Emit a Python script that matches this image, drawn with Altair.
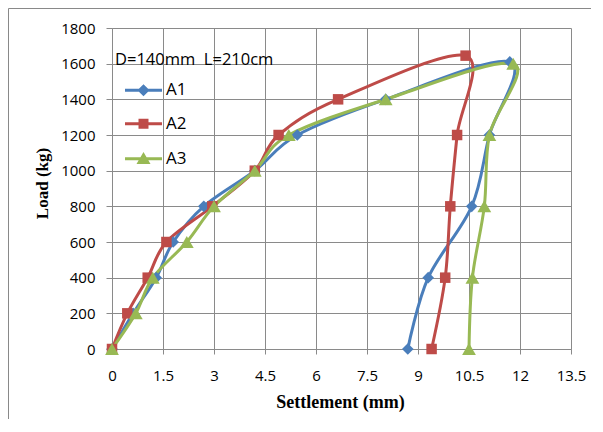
import altair as alt
import pandas as pd

series_names = ["A1", "A2", "A3"]
colors = ["#4A7EBB", "#BE4B48", "#98B954"]
marker_shapes = ["diamond", "square", "triangle-up"]
marker_sizes = [135, 110, 190]

A1_settlement = [0, 0.62, 1.3, 1.8, 2.7, 4.2, 5.45, 8.05, 11.7, 11.1, 10.58, 9.3, 8.7]
A1_load = [0, 200, 400, 600, 800, 1000, 1200, 1400, 1610, 1200, 800, 400, 0]
A2_settlement = [0, 0.45, 1.05, 1.6, 2.95, 4.2, 4.9, 6.65, 10.4, 10.15, 9.95, 9.8, 9.4]
A2_load = [0, 200, 400, 600, 800, 1000, 1200, 1400, 1645, 1200, 800, 400, 0]
A3_settlement = [0, 0.7, 1.2, 2.2, 3.0, 4.2, 5.2, 8.05, 11.8, 11.1, 10.95, 10.6, 10.5]
A3_load = [0, 200, 400, 600, 800, 1000, 1200, 1400, 1600, 1200, 800, 400, 0]

x_ticks = [0, 1.5, 3, 4.5, 6, 7.5, 9, 10.5, 12, 13.5]
y_ticks = [0, 200, 400, 600, 800, 1000, 1200, 1400, 1600, 1800]
legend_title = "D=140mm\u00a0\u00a0L=210cm"

rows = []
for name, xs, ys in [("A1", A1_settlement, A1_load), ("A2", A2_settlement, A2_load), ("A3", A3_settlement, A3_load)]:
    for i, (xv, yv) in enumerate(zip(xs, ys)):
        rows.append({"series": name, "idx": i, "settlement": xv, "load": yv})
df = pd.DataFrame(rows)

FONT = "Open Sans"
GRID = "#8a8a8a"

x_enc = alt.X("settlement:Q",
              scale=alt.Scale(domain=[0, 13.5], nice=False, zero=False),
              axis=alt.Axis(values=x_ticks, labelExpr="format(datum.value, '.1~f')",
                            labelFlush=False, labelOverlap=False,
                            title="Settlement (mm)", grid=True, gridColor=GRID,
                            domainColor=GRID, tickColor=GRID, tickSize=5, labelPadding=14,
                            labelFont=FONT, labelFontSize=15, labelColor="black",
                            titleFont="Liberation Serif", titleFontSize=18, titleFontWeight="bold",
                            titleColor="black", titleX=228, titleY=53, titleBaseline="middle",
                            titleAlign="center"))
y_enc = alt.Y("load:Q",
              scale=alt.Scale(domain=[0, 1800], nice=False),
              axis=alt.Axis(values=y_ticks, format="d", labelFlush=False, labelOverlap=False,
                            title="Load (kg)", grid=True, gridColor=GRID,
                            domainColor=GRID, tickColor=GRID, tickSize=6, labelPadding=11,
                            labelFont=FONT, labelFontSize=15, labelColor="black",
                            titleFont="Liberation Serif", titleFontSize=17, titleFontWeight="bold",
                            titleColor="black", titleX=-70, titleY=155, titleBaseline="middle",
                            titleAlign="center", titleAngle=-90))

legend_paths = [
    "M-1,-0.081L1,-0.081L1,0.081L-1,0.081Z M0,-0.33L0.33,0L0,0.33L-0.33,0Z",
    "M-1,-0.081L1,-0.081L1,0.081L-1,0.081Z M-0.27,-0.27L0.27,-0.27L0.27,0.27L-0.27,0.27Z",
    "M-1,-0.081L1,-0.081L1,0.081L-1,0.081Z M0,-0.37L0.38,0.28L-0.38,0.28Z",
]
legend_y = [24, 78, 113]

base = alt.Chart(df)

lines = base.mark_line(interpolate="cardinal", strokeWidth=3).encode(
    x=x_enc, y=y_enc,
    stroke=alt.Stroke("series:N", scale=alt.Scale(domain=series_names, range=colors), legend=None),
    order=alt.Order("idx:Q"),
)

point_layers = []
for name, shp, sz in zip(series_names, marker_shapes, marker_sizes):
    point_layers.append(
        base.transform_filter(alt.datum.series == name).mark_point(
            filled=True, opacity=1, shape=shp, size=sz, strokeWidth=0
        ).encode(
            x=x_enc, y=y_enc,
            fill=alt.Fill("series:N", scale=alt.Scale(domain=series_names, range=colors), legend=None),
        )
    )

legend_layers = []
for i, (name, col, path, ly) in enumerate(zip(series_names, colors, legend_paths, legend_y)):
    lg_kwargs = dict(
        orient="none", legendX=3, legendY=ly,
        labelFont=FONT, labelFontSize=17, labelColor="black", labelOffset=4,
        symbolSize=1369, symbolOffset=10, symbolStrokeWidth=0, symbolOpacity=1,
        symbolFillColor=col, symbolStrokeColor=col, clipHeight=35.5,
        rowPadding=0, padding=0,
    )
    if i == 0:
        lg_kwargs.update(title=legend_title, titleFont=FONT, titleFontSize=16.5,
                         titleFontWeight="normal", titleColor="black", titlePadding=4,
                         titleLimit=400)
    else:
        lg_kwargs.update(title=None)
    legend_layers.append(
        base.transform_filter("false").mark_point(filled=True, opacity=1, color=col).encode(
            x=x_enc, y=y_enc,
            shape=alt.Shape("series:N", scale=alt.Scale(domain=[name], range=[path]),
                            legend=alt.Legend(**lg_kwargs)),
        )
    )

border = alt.Chart(pd.DataFrame({"a": [0]})).mark_rect(
    filled=False, stroke="#898989", strokeWidth=1
).encode(x=alt.value(-103.5), x2=alt.value(600), y=alt.value(-19.5), y2=alt.value(500))

chart = alt.layer(border, lines, *point_layers, *legend_layers).resolve_scale(
    shape="independent"
).resolve_legend(shape="independent").properties(
    width=459, height=321,
    autosize=alt.AutoSizeParams(type="none"),
    padding={"left": 104, "top": 20, "right": 20, "bottom": 70},
    background="white",
).configure_view(stroke=None)

chart.save("out.html", embed_options={"renderer": "svg", "actions": False})
